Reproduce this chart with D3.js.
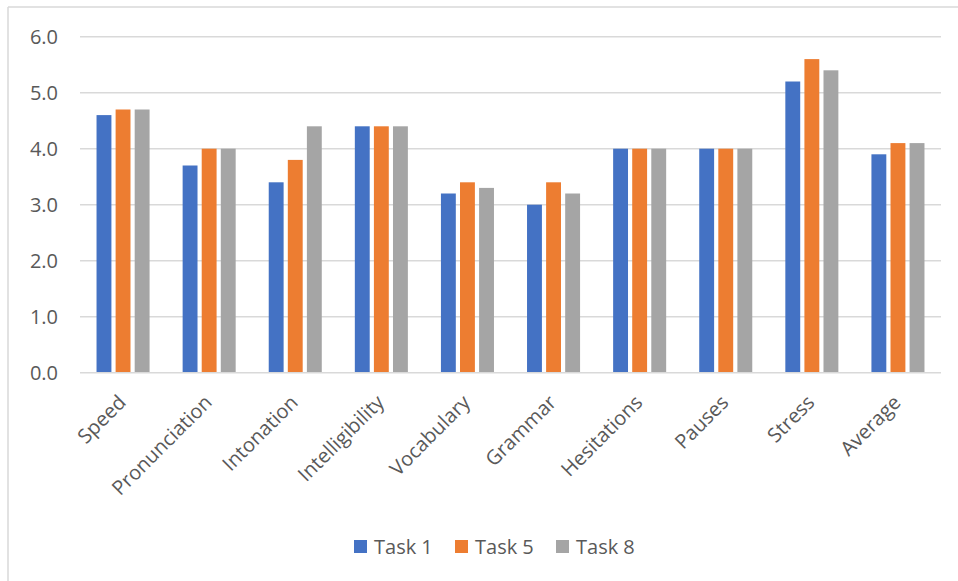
<!DOCTYPE html>
<html>
<head>
<meta charset="utf-8">
<script src="https://cdn.jsdelivr.net/npm/d3@7"></script>
<style>
  html, body { margin: 0; padding: 0; background: #fff; }
  svg { display: block; font-family: "Segoe UI", "Open Sans", "Noto Sans", sans-serif; }
</style>
</head>
<body>
<svg id="chart" width="958" height="581"></svg>
<script>
// Rating categories and per-task scores
const categories = ["Speed", "Pronunciation", "Intonation", "Intelligibility", "Vocabulary",
                    "Grammar", "Hesitations", "Pauses", "Stress", "Average"];
const seriesNames = ["Task 1", "Task 5", "Task 8"];
const task1 = [4.6, 3.7, 3.4, 4.4, 3.2, 3.0, 4.0, 4.0, 5.2, 3.9];
const task5 = [4.7, 4.0, 3.8, 4.4, 3.4, 3.4, 4.0, 4.0, 5.6, 4.1];
const task8 = [4.7, 4.0, 4.4, 4.4, 3.3, 3.2, 4.0, 4.0, 5.4, 4.1];
const yTicks = [0, 1, 2, 3, 4, 5, 6];
const colors = ["#4472C4", "#ED7D31", "#A5A5A5"];

const series = [task1, task5, task8];
const svg = d3.select("#chart");

const plotLeft = 80, plotRight = 941, plotTop = 36.7, plotBottom = 372.7;
const fontStack = "\"Segoe UI\", \"Open Sans\", \"Noto Sans\", sans-serif";
const labelSize = "20px";

// Frame (top and left edges of the chart area)
svg.append("line").attr("x1", 8).attr("x2", 958).attr("y1", 7).attr("y2", 7)
  .attr("stroke", "#d9d9d9").attr("stroke-width", 1.5);
svg.append("line").attr("x1", 8).attr("x2", 8).attr("y1", 7).attr("y2", 581)
  .attr("stroke", "#d9d9d9").attr("stroke-width", 1.5);

const y = d3.scaleLinear().domain([0, 6]).range([plotBottom, plotTop]);
const x0 = d3.scaleBand().domain(categories).range([plotLeft, plotRight])
  .paddingInner(0.384).paddingOuter(0.192);
const x1 = d3.scaleBand().domain(seriesNames).range([0, x0.bandwidth()])
  .paddingInner(0.22).paddingOuter(0);

// Horizontal gridlines
svg.append("g").selectAll("line").data(yTicks.filter(d => d > 0)).join("line")
  .attr("x1", plotLeft).attr("x2", plotRight)
  .attr("y1", d => y(d)).attr("y2", d => y(d))
  .attr("stroke", "#d9d9d9").attr("stroke-width", 1.5);

// Y axis labels
const yAxis = d3.axisLeft(y).tickValues(yTicks).tickFormat(d3.format(".1f")).tickSize(0).tickPadding(0);
const gy = svg.append("g").attr("transform", "translate(58,0)").call(yAxis);
gy.select(".domain").remove();
gy.selectAll("text").attr("fill", "#595959").style("font-size", labelSize)
  .style("font-family", fontStack);

// Bars
const groups = svg.append("g").selectAll("g").data(categories).join("g")
  .attr("transform", d => `translate(${x0(d)},0)`);
groups.selectAll("rect")
  .data((d, i) => seriesNames.map((s, k) => ({ s, v: series[k][i], k })))
  .join("rect")
  .attr("x", d => x1(d.s))
  .attr("width", x1.bandwidth())
  .attr("y", d => y(d.v))
  .attr("height", d => y(0) - y(d.v))
  .attr("fill", d => colors[d.k]);

// Category axis line
svg.append("line").attr("x1", plotLeft).attr("x2", plotRight).attr("y1", plotBottom).attr("y2", plotBottom)
  .attr("stroke", "#d9d9d9").attr("stroke-width", 1.5);

// Category labels, rotated
const xAxis = d3.axisBottom(x0).tickSize(0).tickPadding(0);
const gx = svg.append("g").attr("transform", `translate(0,${plotBottom})`).call(xAxis);
gx.select(".domain").remove();
gx.selectAll("text")
  .attr("fill", "#595959").style("font-size", labelSize)
  .style("font-family", fontStack)
  .attr("text-anchor", "end")
  .attr("dy", null).attr("y", 0)
  .attr("transform", "translate(4,31) rotate(-45)");

// Legend
const legend = svg.append("g").selectAll("g").data(seriesNames).join("g")
  .attr("transform", (d, i) => `translate(${354 + i * 101},540)`);
legend.append("rect").attr("width", 13).attr("height", 13).attr("fill", (d, i) => colors[i]);
legend.append("text").attr("x", 20).attr("y", 13.5)
  .attr("fill", "#595959").style("font-size", labelSize).style("font-family", fontStack).text(d => d);
</script>
</body>
</html>
